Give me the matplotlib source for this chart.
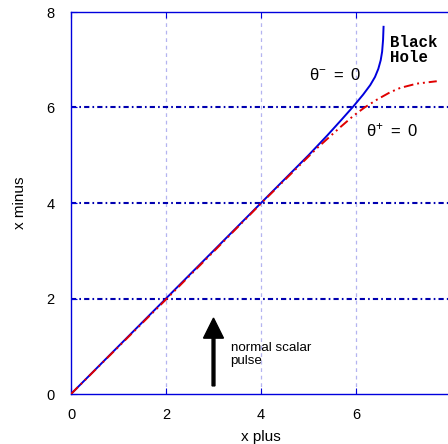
import matplotlib
matplotlib.use("Agg")
import matplotlib.pyplot as plt

# Apparent-horizon curves in (x plus, x minus) coordinates
bh_xp = [0.0, 1.0, 2.0, 3.0, 4.0, 4.6, 5.0, 5.4, 5.7, 5.95, 6.15, 6.30, 6.40, 6.47, 6.52, 6.55, 6.57, 6.58]
bh_xm = [0.0, 1.0, 2.0, 3.0, 4.0, 4.6, 5.0, 5.42, 5.75, 6.03, 6.27, 6.47, 6.64, 6.81, 6.99, 7.17, 7.42, 7.69]

th_xp = [0.0, 1.0, 2.0, 3.0, 4.0, 4.6, 5.17, 5.66, 5.95, 6.18, 6.45, 6.72, 6.93, 7.28, 7.70]
th_xm = [0.0, 0.99, 1.98, 2.98, 3.99, 4.58, 5.14, 5.58, 5.83, 6.00, 6.17, 6.32, 6.41, 6.50, 6.55]

xticks = [0, 2, 4, 6]
yticks = [0, 2, 4, 6, 8]

plt.rcParams['font.family'] = ['Liberation Sans', 'DejaVu Sans']
plt.rcParams['mathtext.fontset'] = 'custom'
plt.rcParams['mathtext.rm'] = 'Liberation Sans'
plt.rcParams['mathtext.it'] = 'Liberation Sans'

fig = plt.figure(figsize=(4.48, 4.44), dpi=100)
ax = fig.add_axes([71 / 448, 50 / 444, 380 / 448, 382 / 444])
ax.set_xlim(0, 8)
ax.set_ylim(0, 8)

blue = '#0000dd'
for s in ax.spines.values():
    s.set_color(blue)
    s.set_linewidth(1.0)

# grid lines
for gx in [2, 4, 6]:
    ax.axvline(gx, color='#b4b4f0', lw=0.9, ls=(0, (3, 3)), zorder=1)
for gy in [2, 4, 6]:
    ax.axhline(gy, color='#0000b0', lw=1.5, ls=(0, (2.5, 1.5, 0.8, 1.5)), zorder=1)

ax.plot(bh_xp, bh_xm, color=blue, lw=1.4, zorder=2)
ax.plot(th_xp, th_xm, color='#e00000', lw=1.4,
        dashes=(5, 2, 1, 2, 1, 2), zorder=3)

ax.set_xticks(xticks)
ax.set_yticks(yticks)
ax.tick_params(direction='in', length=4, color=blue, labelsize=10.5,
               top=True, pad=10)
ax.tick_params(axis='y', pad=12)

ax.set_xlabel('x plus', fontsize=11, labelpad=6)
ax.set_ylabel('x minus', fontsize=11, labelpad=14)

ax.text(6.72, 7.2, 'Black\nHole', family='Liberation Mono', fontweight='bold',
        fontsize=11.3, ha='left', va='center', linespacing=1.0)
ax.text(5.56, 6.68, r'$\mathregular{\theta^{-}\ =\ 0}$', fontsize=12, ha='center', va='center')
ax.text(6.76, 5.53, r'$\mathregular{\theta^{+}\ =\ 0}$', fontsize=12, ha='center', va='center')

ax.arrow(3.0, 0.17, 0, 1.42, width=0.06, head_width=0.42, head_length=0.42,
         length_includes_head=True, color='black', zorder=4)
ax.text(3.36, 0.83, 'normal scalar\npulse', fontsize=9.6, ha='left', va='center',
        linespacing=1.05)

fig.savefig('out.png', dpi=100)
